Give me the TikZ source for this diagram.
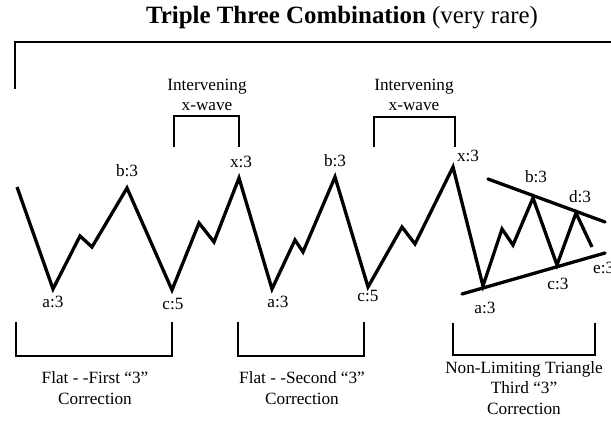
\documentclass[tikz,border=0pt]{standalone}
\usepackage{fontspec}
\setmainfont{Liberation Serif}
\begin{document}
\begin{tikzpicture}[x=1pt,y=-1pt,
  wave/.style={line width=3.3pt,line join=miter,line cap=butt},
  tline/.style={line width=3.3pt,line cap=round},
  brack/.style={line width=2pt,line join=miter},
  lbl/.style={inner sep=0pt,font=\fontsize{17.2}{19}\selectfont},
  captext/.style={inner sep=0pt,align=center,font=\fontsize{17.2}{20.5}\selectfont}]
\useasboundingbox (0,0) rectangle (611,427);
% title
\node[inner sep=0pt,font=\fontsize{24.9}{27}\selectfont] (title) at (342,18) {\textbf{Triple Three Combination} (very rare)};
% top bracket
\coordinate (tl) at (15,89);
\coordinate (tc) at (15,42);
\coordinate (tr) at (611,42);
\draw[brack] (tl) -- (tc) -- (tr);
% intervening x-wave brackets
\node[captext] (iw1) at (207,95) {Intervening\\x-wave};
\node[captext] (iw2) at (414,95) {Intervening\\x-wave};
\coordinate (b1a) at (174,147); \coordinate (b1b) at (174,116);
\coordinate (b1c) at (239,116); \coordinate (b1d) at (239,147);
\draw[brack] (b1a) -- (b1b) -- (b1c) -- (b1d);
\coordinate (b2a) at (374,147); \coordinate (b2b) at (374,117);
\coordinate (b2c) at (455,117); \coordinate (b2d) at (455,147);
\draw[brack] (b2a) -- (b2b) -- (b2c) -- (b2d);
% wave points
\coordinate (p0) at (17,187);
\coordinate (p1) at (53,289);
\coordinate (p2) at (80,236);
\coordinate (p3) at (92,247);
\coordinate (p4) at (127,188);
\coordinate (p5) at (172,290);
\coordinate (p6) at (199,223);
\coordinate (p7) at (214,242);
\coordinate (p8) at (239,178);
\coordinate (p9) at (272,289);
\coordinate (p10) at (295,240);
\coordinate (p11) at (303,252);
\coordinate (p12) at (335,177);
\coordinate (p13) at (368,287);
\coordinate (p14) at (402,227);
\coordinate (p15) at (415,244);
\coordinate (p16) at (453,167);
\coordinate (p17) at (483,286);
\coordinate (p18) at (502,229);
\coordinate (p19) at (513,245);
\coordinate (p20) at (533,198);
\coordinate (p21) at (557,265);
\coordinate (p22) at (576,213);
\coordinate (p23) at (592,247);
\draw[wave] (p0) -- (p1) -- (p2) -- (p3) -- (p4) -- (p5) -- (p6) -- (p7) -- (p8) -- (p9) -- (p10) -- (p11) -- (p12) -- (p13) -- (p14) -- (p15) -- (p16) -- (p17) -- (p18) -- (p19) -- (p20) -- (p21) -- (p22) -- (p23);
% triangle boundary lines
\coordinate (u1) at (488,179); \coordinate (u2) at (605,222);
\coordinate (l1) at (462,294); \coordinate (l2) at (605,253);
\draw[tline] (u1) -- (u2);
\draw[tline] (l1) -- (l2);
% wave labels
\node[lbl] (lb1) at (127,171) {b:3};
\node[lbl] (lx1) at (241,162) {x:3};
\node[lbl] (lb2) at (335,161) {b:3};
\node[lbl] (lx2) at (468,156) {x:3};
\node[lbl] (lb3) at (536,177) {b:3};
\node[lbl] (ld3) at (580,197) {d:3};
\node[lbl] (lc3) at (558,284) {c:3};
\node[lbl,anchor=west] (le3) at (593,268) {e:3};
\node[lbl] (la1) at (53,302) {a:3};
\node[lbl] (lc1) at (173,304) {c:5};
\node[lbl] (la2) at (278,302) {a:3};
\node[lbl] (lc2) at (368,296) {c:5};
\node[lbl] (la3) at (485,308) {a:3};
% bottom brackets
\coordinate (c1a) at (16,322); \coordinate (c1b) at (16,356);
\coordinate (c1c) at (172,356); \coordinate (c1d) at (172,322);
\draw[brack] (c1a) -- (c1b) -- (c1c) -- (c1d);
\coordinate (c2a) at (238,322); \coordinate (c2b) at (238,356);
\coordinate (c2c) at (364,356); \coordinate (c2d) at (364,322);
\draw[brack] (c2a) -- (c2b) -- (c2c) -- (c2d);
\coordinate (c3a) at (453,323); \coordinate (c3b) at (453,355);
\coordinate (c3c) at (595,355); \coordinate (c3d) at (595,323);
\draw[brack] (c3a) -- (c3b) -- (c3c) -- (c3d);
% captions
\node[captext] (cap1) at (95,388) {Flat - -First “3”\\Correction};
\node[captext] (cap2) at (302,388) {Flat - -Second “3”\\Correction};
\node[captext] (cap3) at (524,388) {Non-Limiting Triangle\\Third “3”\\Correction};
\end{tikzpicture}
\end{document}
